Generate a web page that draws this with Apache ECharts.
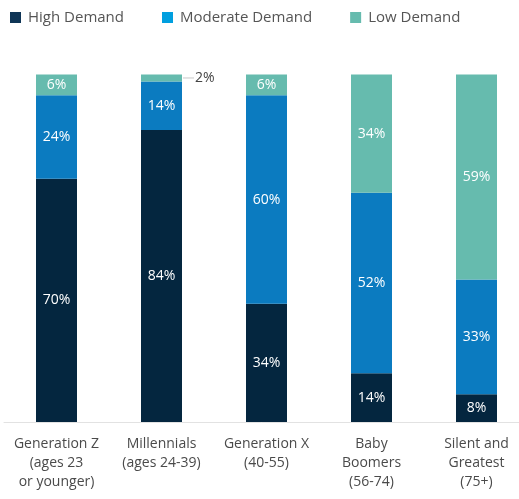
<!DOCTYPE html>
<html>
<head>
<meta charset="utf-8">
<script src="https://cdn.jsdelivr.net/npm/echarts@6/dist/echarts.min.js"></script>
<style>
  html, body { margin: 0; padding: 0; background: #fff; }
  #chart { width: 519px; height: 499px; }
</style>
</head>
<body>
<div id="chart"></div>
<script>
// categories and values (percent)
var generations = [
  'Generation Z\n(ages 23\nor younger)',
  'Millennials\n(ages 24-39)',
  'Generation X\n(40-55)',
  'Baby\nBoomers\n(56-74)',
  'Silent and\nGreatest\n(75+)'
];
var highDemand = [70, 84, 34, 14, 8];
var moderateDemand = [24, 14, 60, 52, 33];
var lowDemand = [6, 2, 6, 34, 59];

var seriesNames = ['High Demand', 'Moderate Demand', 'Low Demand'];
var barColors = ['#04263f', '#0b7bc0', '#66bbae'];
var legendColors = ['#0f3556', '#009fdf', '#66bbae'];

var chart = echarts.init(document.getElementById('chart'));

// small segments get their label outside with a short leader line
function toData(values) {
  return values.map(function (v) {
    if (v >= 5) return v;
    return {
      value: v,
      label: {
        position: 'right',
        distance: 1,
        color: '#444',
        formatter: '{l|}{t|' + v + '%}',
        rich: {
          l: { width: 11, height: 1, backgroundColor: '#c8c8c8', verticalAlign: 'middle' },
          t: { fontSize: 14, color: '#444', padding: [0, 0, 0, 1], fontFamily: 'Open Sans' }
        }
      }
    };
  });
}

function makeSeries(i, values) {
  return {
    name: seriesNames[i],
    type: 'bar',
    stack: 'total',
    barWidth: 41,
    itemStyle: { color: barColors[i] },
    label: {
      show: true,
      position: 'inside',
      color: '#fff',
      fontSize: 14,
      fontFamily: 'Open Sans',
      formatter: '{c}%'
    },
    emphasis: { disabled: true },
    data: toData(values)
  };
}

var option = {
  animation: false,
  textStyle: { fontFamily: 'Open Sans' },
  legend: {
    left: 5,
    top: 5,
    itemWidth: 11,
    itemHeight: 11,
    itemGap: 38,
    icon: 'rect',
    textStyle: { fontSize: 15, color: '#555', padding: [0, 0, 0, 2] },
    data: seriesNames.map(function (n, i) {
      return { name: n, itemStyle: { color: legendColors[i] } };
    })
  },
  grid: {
    left: 4,
    width: 525,
    top: 74.5,
    bottom: 77,
    containLabel: false,
    outerBoundsMode: 'none'
  },
  xAxis: {
    type: 'category',
    data: generations,
    axisLine: { show: true, lineStyle: { color: '#e2e2e2', width: 1 } },
    axisTick: { show: false },
    axisLabel: {
      interval: 0,
      margin: 13,
      fontSize: 14,
      lineHeight: 19,
      color: '#4a4a4a',
      align: 'center'
    }
  },
  yAxis: {
    type: 'value',
    min: 0,
    max: 100,
    show: false,
    splitLine: { show: false }
  },
  series: [
    makeSeries(0, highDemand),
    makeSeries(1, moderateDemand),
    makeSeries(2, lowDemand)
  ]
};

chart.setOption(option);
</script>
</body>
</html>
